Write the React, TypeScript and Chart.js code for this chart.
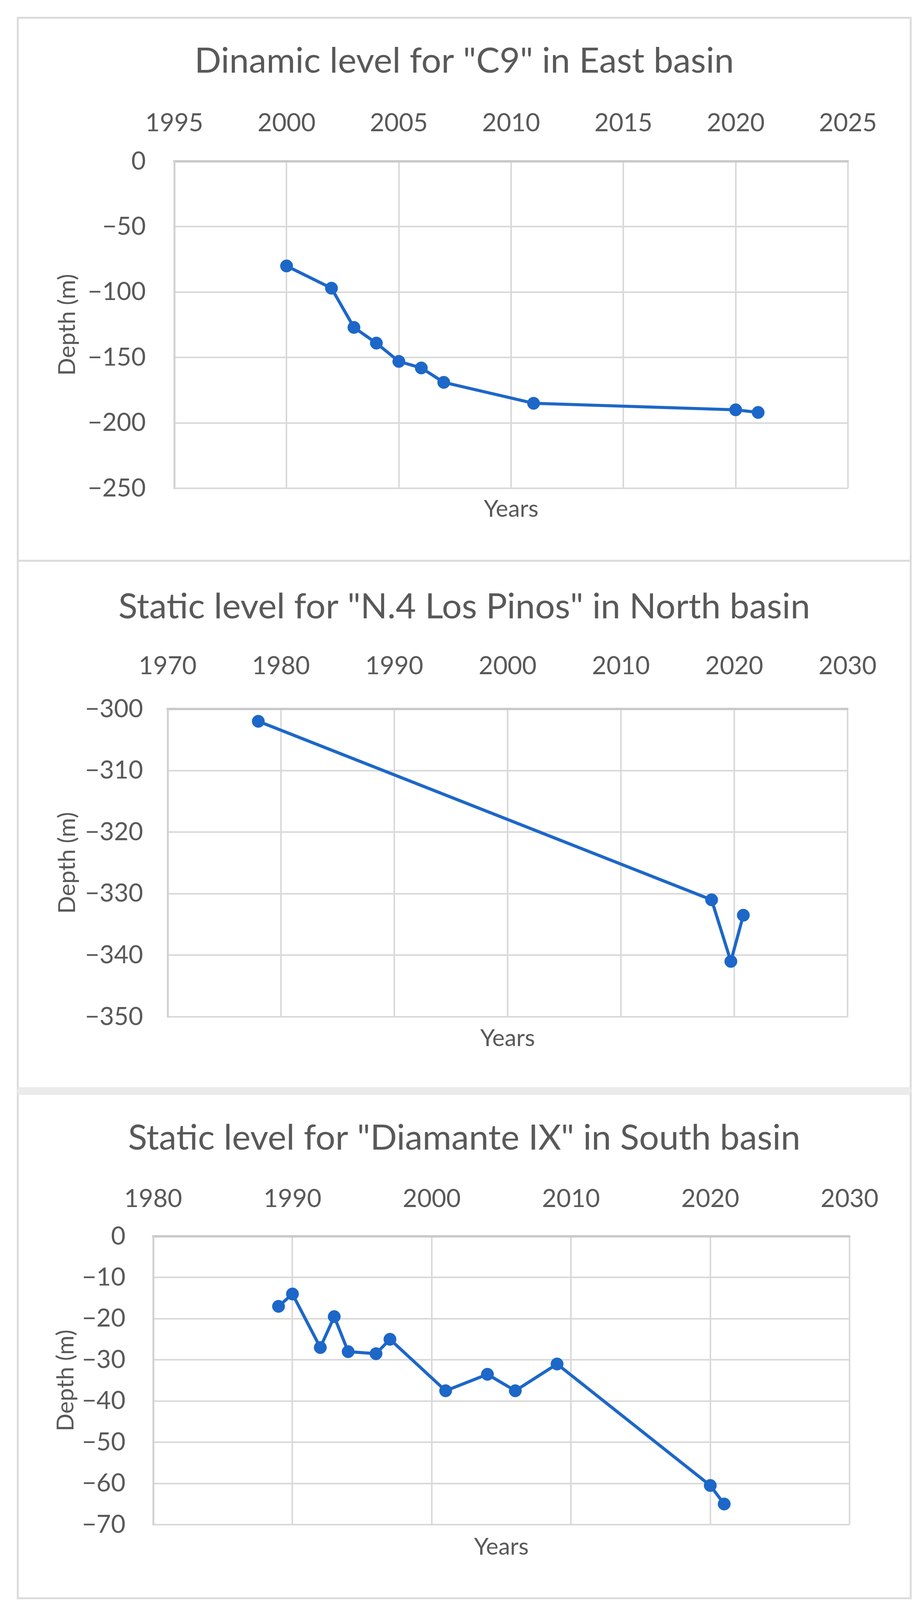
import React, { useEffect, useRef } from "react";
import { Chart, registerables } from "chart.js";

Chart.register(...registerables);

// ---------- data ----------
const c9Years = [2000, 2002, 2003, 2004, 2005, 2006, 2007, 2011, 2020, 2021];
const c9Depth = [-80, -97, -127, -139, -153, -158, -169, -185, -190, -192];
const c9XTicks = [1995, 2000, 2005, 2010, 2015, 2020, 2025];
const c9YTicks = [0, -50, -100, -150, -200, -250];

const pinosYears = [1978, 2018, 2019.7, 2020.8];
const pinosDepth = [-302, -331, -341, -333.5];
const pinosXTicks = [1970, 1980, 1990, 2000, 2010, 2020, 2030];
const pinosYTicks = [-300, -310, -320, -330, -340, -350];

const diamYears = [1989, 1990, 1992, 1993, 1994, 1996, 1997, 2001, 2004, 2006, 2009, 2020, 2021];
const diamDepth = [-17, -14, -27, -19.5, -28, -28.5, -25, -37.5, -33.5, -37.5, -31, -60.5, -65];
const diamXTicks = [1980, 1990, 2000, 2010, 2020, 2030];
const diamYTicks = [0, -10, -20, -30, -40, -50, -60, -70];

const titles = [
  'Dinamic level for "C9" in East basin',
  'Static level for "N.4 Los Pinos" in North basin',
  'Static level for "Diamante IX" in South basin',
];
const xTitle = "Years";
const yTitle = "Depth (m)";

// ---------- style / layout ----------
const FONT = 'Lato, "Open Sans", "DejaVu Sans", sans-serif';
const TEXT = "#595959";
const LINE = "#1d67c9";
const GRID = "#d9d9d9";
const TITLE_SIZE = 90;
const TICK_SIZE = 64;
const AXIS_TITLE_SIZE = 60;
const CANVAS_W = 2280;

type Layout = {
  canvasH: number;
  plot: { left: number; right: number; top: number; bottom: number };
  titleMid: number;
  xLabelMid: number;
  yLabelRight: number;
  yTitleX: number;
  xTitleY: number;
};

const layouts: Layout[] = [
  { canvasH: 1385, plot: { left: 398, right: 2122, top: 365, bottom: 1202 }, titleMid: 109, xLabelMid: 267, yLabelRight: 325, yTitleX: 125, xTitleY: 1256 },
  { canvasH: 1345, plot: { left: 381, right: 2121, top: 377, bottom: 1165 }, titleMid: 116, xLabelMid: 267, yLabelRight: 318, yTitleX: 125, xTitleY: 1221 },
  { canvasH: 1286, plot: { left: 344, right: 2126, top: 362, bottom: 1100 }, titleMid: 111, xLabelMid: 266, yLabelRight: 273, yTitleX: 121, xTitleY: 1158 },
];

const panels = [
  { top: 43, height: 1395, bt: 5, bb: 5, btc: "#dcdcdc", bbc: "#dcdcdc" },
  { top: 1433, height: 1360, bt: 5, bb: 10, btc: "#dcdcdc", bbc: "#ebebeb" },
  { top: 2793, height: 1301, bt: 10, bb: 5, btc: "#ebebeb", bbc: "#dcdcdc" },
];

const fmt = (v: any) => String(v).replace("-", "\u2212");

function makeConfig(
  years: number[],
  depth: number[],
  xTicks: number[],
  yTicks: number[],
  title: string,
  L: Layout
): any {
  const titleLH = TITLE_SIZE * 1.2;
  const tickLH = TICK_SIZE * 1.2;
  const axLH = AXIS_TITLE_SIZE * 1.2;
  const titleBottom = L.titleMid + titleLH / 2;
  const xMin = Math.min(...xTicks);
  const xMax = Math.max(...xTicks);
  const yMin = Math.min(...yTicks);
  const yMax = Math.max(...yTicks);
  const xStep = xTicks[1] - xTicks[0];
  const yStep = Math.abs(yTicks[1] - yTicks[0]);
  return {
    type: "line",
    data: {
      datasets: [
        {
          data: years.map((x, i) => ({ x, y: depth[i] })),
          borderColor: LINE,
          backgroundColor: LINE,
          borderWidth: 8,
          pointRadius: 16,
          pointBorderWidth: 1,
          pointBackgroundColor: LINE,
          pointBorderColor: LINE,
          tension: 0,
          xAxisID: "x",
          yAxisID: "y",
        },
      ],
    },
    options: {
      responsive: false,
      animation: false,
      devicePixelRatio: 1,
      layout: { padding: 0 },
      plugins: {
        legend: { display: false },
        tooltip: { enabled: false },
        title: {
          display: true,
          text: title,
          color: TEXT,
          font: { family: FONT, size: TITLE_SIZE, weight: "normal", lineHeight: 1.2 },
          padding: { top: L.titleMid - titleLH / 2, bottom: 0 },
        },
      },
      scales: {
        x: {
          type: "linear",
          position: "top",
          min: xMin,
          max: xMax,
          afterFit: (s: any) => {
            s.height = L.plot.top - titleBottom;
          },
          ticks: {
            stepSize: xStep,
            autoSkip: false,
            maxRotation: 0,
            color: TEXT,
            font: { family: FONT, size: TICK_SIZE, lineHeight: 1.2 },
            padding: L.plot.top - L.xLabelMid - tickLH / 2,
            callback: (v: any) => String(v),
          },
          grid: { color: GRID, lineWidth: 4, drawTicks: false },
          border: { display: true, color: "#c9c9c9", width: 6 },
        },
        x2: {
          type: "linear",
          position: "bottom",
          min: xMin,
          max: xMax,
          afterFit: (s: any) => {
            s.height = L.canvasH - L.plot.bottom;
          },
          ticks: { display: false },
          grid: { display: false, drawTicks: false },
          border: { display: false },
          title: {
            display: true,
            text: xTitle,
            color: TEXT,
            font: { family: FONT, size: AXIS_TITLE_SIZE, lineHeight: 1.2 },
            padding: { top: 0, bottom: L.canvasH - L.xTitleY - axLH / 2 },
          },
        },
        y: {
          type: "linear",
          position: "left",
          min: yMin,
          max: yMax,
          afterFit: (s: any) => {
            s.width = L.plot.left;
          },
          ticks: {
            stepSize: yStep,
            autoSkip: false,
            color: TEXT,
            font: { family: FONT, size: TICK_SIZE, lineHeight: 1.2 },
            padding: L.plot.left - L.yLabelRight,
            callback: fmt,
          },
          grid: { color: GRID, lineWidth: 4, drawTicks: false },
          border: { display: true, color: "#d2d2d2", width: 5 },
          title: {
            display: true,
            text: yTitle,
            color: TEXT,
            font: { family: FONT, size: AXIS_TITLE_SIZE, lineHeight: 1.2 },
            padding: { top: L.yTitleX - axLH / 2, bottom: 0 },
          },
        },
        yR: {
          type: "linear",
          position: "right",
          min: yMin,
          max: yMax,
          afterFit: (s: any) => {
            s.width = CANVAS_W - L.plot.right;
          },
          ticks: { display: false },
          grid: { display: false, drawTicks: false },
          border: { display: false },
        },
      },
    },
  };
}

function Panel({ idx, years, depth, xTicks, yTicks }: { idx: number; years: number[]; depth: number[]; xTicks: number[]; yTicks: number[] }) {
  const ref = useRef<HTMLCanvasElement | null>(null);
  const L = layouts[idx];
  const P = panels[idx];
  useEffect(() => {
    if (!ref.current) return;
    const chart = new Chart(ref.current, makeConfig(years, depth, xTicks, yTicks, titles[idx], L));
    return () => chart.destroy();
  }, []);
  return (
    <div
      style={{
        position: "absolute",
        left: 43,
        top: P.top,
        width: 2290,
        height: P.height,
        boxSizing: "border-box",
        borderLeft: "5px solid #dcdcdc",
        borderRight: "5px solid #dcdcdc",
        borderTop: `${P.bt}px solid ${P.btc}`,
        borderBottom: `${P.bb}px solid ${P.bbc}`,
        background: "#ffffff",
      }}
    >
      <canvas
        ref={ref}
        width={CANVAS_W}
        height={L.canvasH}
        style={{ position: "absolute", left: 0, top: 0, width: CANVAS_W, height: L.canvasH }}
      />
    </div>
  );
}

export default function App() {
  return (
    <div style={{ position: "absolute", left: 0, top: 0, width: 2362, height: 4141, background: "#ffffff" }}>
      <Panel idx={0} years={c9Years} depth={c9Depth} xTicks={c9XTicks} yTicks={c9YTicks} />
      <Panel idx={1} years={pinosYears} depth={pinosDepth} xTicks={pinosXTicks} yTicks={pinosYTicks} />
      <Panel idx={2} years={diamYears} depth={diamDepth} xTicks={diamXTicks} yTicks={diamYTicks} />
    </div>
  );
}
